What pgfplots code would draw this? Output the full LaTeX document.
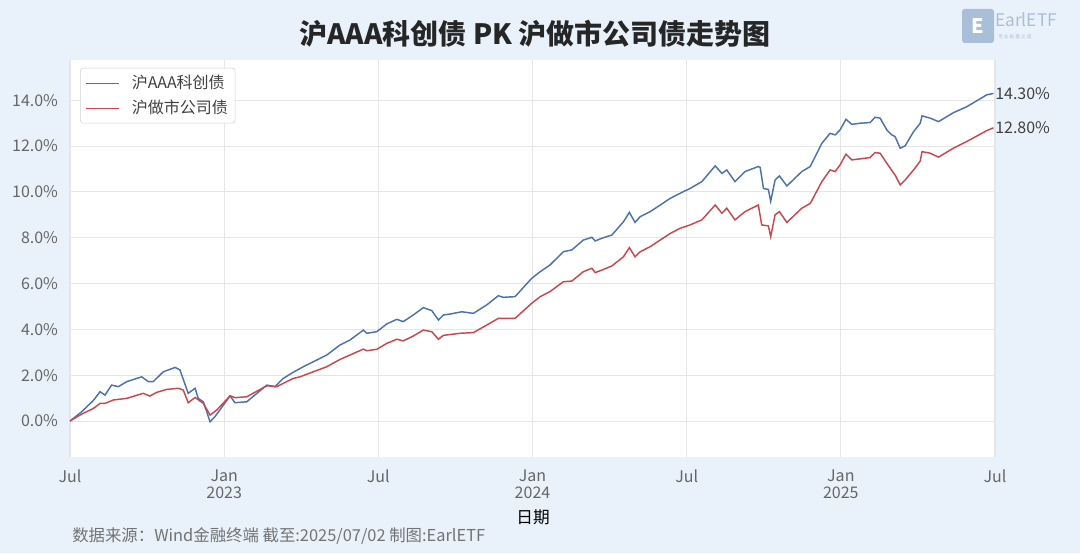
\documentclass[border=0pt]{standalone}
\usepackage{pgfplots}
\pgfplotsset{compat=1.18}
\usepackage{fontspec}
\setmainfont{Noto Sans CJK SC}
\definecolor{bgblue}{HTML}{E9F2FB}
\definecolor{lblue}{HTML}{4C72B0}
\definecolor{lred}{HTML}{C9474F}
\definecolor{tickgray}{HTML}{666666}
\definecolor{gridgray}{HTML}{E6E6E6}
\definecolor{logoblue}{HTML}{A9BED8}
\begin{document}
\begin{tikzpicture}
\fill[bgblue] (0pt,0pt) rectangle (810pt,414.75pt);
\begin{axis}[
  at={(52.5pt,72pt)}, anchor=south west,
  width=693.75pt, height=297.75pt, scale only axis,
  xmin=0, xmax=36, ymin=-1.57, ymax=15.76,
  axis background/.style={fill=white},
  axis line style={draw=none},
  tick style={draw=none},
  grid=major, major grid style={gridgray, line width=0.8pt},
  xtick={0,6,12,18,24,30,36},
  xticklabels={Jul,Jan\\2023,Jul,Jan\\2024,Jul,Jan\\2025,Jul},
  ytick={0,2,4,6,8,10,12,14},
  yticklabels={0.0\%,2.0\%,4.0\%,6.0\%,8.0\%,10.0\%,12.0\%,14.0\%},
  tick label style={font=\fontsize{12}{13}\selectfont, text=tickgray},
  xticklabel style={align=center, yshift=-6pt},
  yticklabel style={xshift=-5.5pt},
  clip=false,
  legend style={at={(0.011,0.98)}, anchor=north west, draw=gray!35, rounded corners=2pt,
    fill=white, font=\fontsize{12}{13}\selectfont, text=black!75, inner sep=3.5pt,
    row sep=3pt, cells={anchor=west}},
  legend image code/.code={\draw[#1, line width=0.9pt] (0pt,0pt) -- (25pt,0pt); \path (32pt,0pt);},
  legend cell align=left,
]
\addplot[lblue, line width=1.1pt] coordinates {
(0,0) (0.45,0.4) (0.91,0.9) (1.17,1.28) (1.36,1.13) (1.62,1.57) (1.88,1.5) (2.21,1.72) (2.79,1.93) (3.05,1.72) (3.24,1.72) (3.63,2.15) (4.09,2.34) (4.28,2.23) (4.60,1.21) (4.87,1.43) (4.99,0.99) (5.19,0.84) (5.45,-0.03) (5.64,0.19) (6.23,1.10) (6.42,0.80) (6.88,0.84) (7.66,1.57) (7.98,1.50) (8.30,1.86) (8.69,2.13) (9.08,2.37) (9.60,2.66) (9.99,2.88) (10.51,3.32) (10.90,3.54) (11.42,3.97) (11.55,3.83) (11.94,3.90) (12.33,4.24) (12.72,4.44) (12.97,4.34) (13.36,4.63) (13.75,4.95) (14.08,4.82) (14.34,4.41) (14.53,4.63) (14.79,4.67) (15.25,4.77) (15.70,4.70) (16.22,5.07) (16.67,5.47) (16.86,5.40) (17.32,5.43) (17.97,6.23) (18.30,6.52) (18.68,6.81) (19.20,7.39) (19.53,7.47) (19.98,7.90) (20.31,8.02) (20.44,7.86) (20.70,7.98) (21.09,8.12) (21.54,8.70) (21.77,9.11) (21.99,8.67) (22.19,8.92) (22.58,9.14) (22.97,9.43) (23.36,9.72) (23.74,9.94) (24.13,10.15) (24.59,10.45) (25.11,11.14) (25.37,10.81) (25.56,10.96) (25.88,10.45) (26.27,10.89) (26.79,11.11) (26.86,11.07) (26.99,10.15) (27.18,10.11) (27.27,9.59) (27.44,10.52) (27.61,10.70) (27.90,10.26) (28.48,10.89) (28.81,11.11) (29.26,12.12) (29.58,12.56) (29.78,12.49) (29.97,12.71) (30.20,13.17) (30.43,12.95) (30.75,13.00) (31.14,13.03) (31.33,13.26) (31.53,13.22) (31.79,12.71) (31.98,12.49) (32.11,12.42) (32.31,11.91) (32.50,12.01) (32.83,12.63) (33.09,13.00) (33.16,13.32) (33.48,13.22) (33.80,13.07) (34.38,13.46) (34.90,13.72) (35.68,14.24) (35.94,14.30)
};
\addlegendentry{沪AAA科创债}
\addplot[lred, line width=1.1pt] coordinates {
(0,0) (0.45,0.3) (0.91,0.55) (1.17,0.77) (1.36,0.77) (1.69,0.92) (2.21,0.99) (2.85,1.21) (3.11,1.09) (3.37,1.25) (3.76,1.38) (4.22,1.43) (4.41,1.35) (4.60,0.80) (4.87,1.03) (5.19,0.77) (5.45,0.26) (5.71,0.48) (6.23,1.10) (6.42,1.02) (6.88,1.06) (7.66,1.54) (8.04,1.50) (8.69,1.86) (8.95,1.93) (9.99,2.37) (10.51,2.69) (11.42,3.14) (11.55,3.07) (11.94,3.13) (12.33,3.39) (12.72,3.57) (12.97,3.50) (13.36,3.71) (13.75,3.97) (14.08,3.90) (14.34,3.57) (14.53,3.74) (15.18,3.83) (15.70,3.86) (16.22,4.19) (16.67,4.48) (17.32,4.48) (17.97,5.14) (18.30,5.43) (18.68,5.65) (19.20,6.08) (19.53,6.11) (19.98,6.52) (20.31,6.67) (20.44,6.48) (20.70,6.59) (21.09,6.77) (21.54,7.17) (21.77,7.57) (21.99,7.17) (22.19,7.39) (22.58,7.61) (22.97,7.90) (23.36,8.19) (23.74,8.41) (24.13,8.56) (24.59,8.78) (25.11,9.43) (25.37,9.07) (25.56,9.29) (25.88,8.78) (26.27,9.14) (26.79,9.43) (26.92,8.56) (27.18,8.52) (27.27,8.05) (27.44,9.00) (27.61,9.14) (27.90,8.67) (28.48,9.29) (28.81,9.50) (29.26,10.45) (29.58,10.96) (29.78,10.89) (29.97,11.18) (30.20,11.65) (30.43,11.40) (31.14,11.50) (31.33,11.72) (31.53,11.69) (31.79,11.25) (32.11,10.74) (32.31,10.31) (32.50,10.52) (32.83,10.96) (33.09,11.35) (33.16,11.76) (33.48,11.69) (33.80,11.52) (34.38,11.91) (34.90,12.20) (35.68,12.68) (35.94,12.80)
};
\addlegendentry{沪做市公司债}
\node[anchor=west, font=\fontsize{12}{13}\selectfont, text=black!75, inner sep=0pt] at (axis cs:36,14.3) {14.30\%};
\node[anchor=west, font=\fontsize{12}{13}\selectfont, text=black!75, inner sep=0pt] at (axis cs:36,12.8) {12.80\%};
\end{axis}
\node[font=\fontsize{21}{23}\selectfont\bfseries, text=black!85] at (401.25pt,389.25pt) {沪AAA科创债 PK 沪做市公司债走势图};
\node[font=\fontsize{12.5}{14}\selectfont, text=black] at (399.75pt,27pt) {日期};
\node[anchor=west, font=\fontsize{12.3}{14}\selectfont, text=black!55, inner sep=0pt] at (54pt,12.75pt) {数据来源：Wind金融终端 截至:2025/07/02 制图:EarlETF};
% logo
\fill[logoblue, rounded corners=2pt] (721.5pt,382.5pt) rectangle (745.5pt,408pt);
\node[text=white, font=\fontsize{15}{15}\selectfont\bfseries] at (733.5pt,395.25pt) {E};
\node[anchor=west, text=logoblue, font=\fontsize{13}{13}\selectfont, inner sep=0pt] at (746.25pt,399.75pt) {EarlETF};
\node[anchor=west, text=logoblue, font=\fontsize{3.5}{4}\selectfont, inner sep=0pt] at (748.5pt,387pt) {专 业 投 基 之 道};
\end{tikzpicture}
\end{document}
